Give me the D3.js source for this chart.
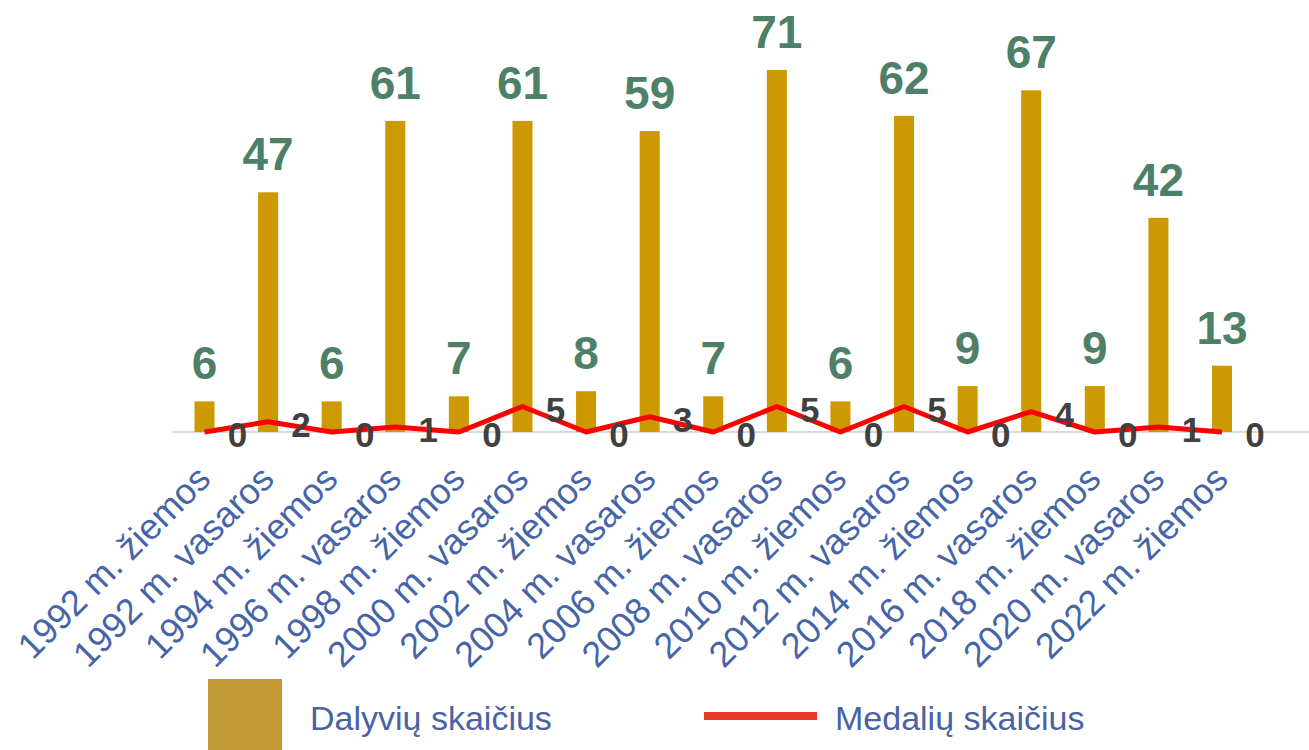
<!DOCTYPE html>
<html>
<head>
<meta charset="utf-8">
<script src="https://cdn.jsdelivr.net/npm/d3@7"></script>
<style>
  html, body { margin: 0; padding: 0; background: #fff; }
  svg { display: block; font-family: "Liberation Sans", Arial, sans-serif; }
</style>
</head>
<body>
<svg id="chart" width="1309" height="750"></svg>
<script>
const categories = [
  '1992 m. žiemos', '1992 m. vasaros', '1994 m. žiemos', '1996 m. vasaros',
  '1998 m. žiemos', '2000 m. vasaros', '2002 m. žiemos', '2004 m. vasaros',
  '2006 m. žiemos', '2008 m. vasaros', '2010 m. žiemos', '2012 m. vasaros',
  '2014 m. žiemos', '2016 m. vasaros', '2018 m. žiemos', '2020 m. vasaros',
  '2022 m. žiemos'
]
const participants = [6, 47, 6, 61, 7, 61, 8, 59, 7, 71, 6, 62, 9, 67, 9, 42, 13]
const medals = [0, 2, 0, 1, 0, 5, 0, 3, 0, 5, 0, 5, 0, 4, 0, 1, 0]
const seriesNames = ['Dalyvių skaičius', 'Medalių skaičius']

const width = 1309
const height = 750
const baseY = 432

const data = categories.map((c, i) => ({name: c, value: participants[i], medals: medals[i]}))

const svg = d3.select('#chart')

const x = d3.scaleBand()
  .domain(categories)
  .range([172.7, 1253.8])
  .paddingInner(0.685)
  .paddingOuter(0.3425)

const y = d3.scaleLinear()
  .domain([0, 80])
  .range([baseY, baseY - 408])

const cx = d => x(d.name) + x.bandwidth() / 2

// x axis (labels rotated)
const xAxis = svg.append('g')
  .attr('transform', `translate(0,${baseY})`)
  .call(d3.axisBottom(x).tickSize(0).tickSizeOuter(0))
xAxis.select('.domain')
  .attr('d', `M172.7,0H${width}`)
  .attr('stroke', '#d9d9d9')
  .attr('stroke-width', 2)
xAxis.selectAll('.tick text')
  .attr('fill', '#4565a8')
  .attr('font-size', 36)
  .attr('font-family', '"Liberation Sans", Arial, sans-serif')
  .attr('text-anchor', 'end')
  .attr('dy', 0)
  .attr('y', 0)
  .attr('transform', 'translate(8,49) rotate(-45)')

// bars
svg.append('g')
  .selectAll('rect')
  .data(data)
  .join('rect')
  .attr('x', d => x(d.name))
  .attr('y', d => y(d.value))
  .attr('width', x.bandwidth())
  .attr('height', d => baseY - y(d.value))
  .attr('fill', '#cc9900')

// bar labels
svg.append('g')
  .selectAll('text')
  .data(data)
  .join('text')
  .attr('x', cx)
  .attr('y', d => y(d.value) - 22)
  .attr('text-anchor', 'middle')
  .attr('font-size', 46)
  .attr('font-weight', 'bold')
  .attr('fill', '#4e8068')
  .text(d => d.value)

// medal line
const line = d3.line()
  .x(cx)
  .y(d => y(d.medals))

svg.append('path')
  .datum(data)
  .attr('fill', 'none')
  .attr('stroke', '#ff0000')
  .attr('stroke-width', 5)
  .attr('stroke-linejoin', 'round')
  .attr('d', line)

// medal labels
svg.append('g')
  .selectAll('text')
  .data(data)
  .join('text')
  .attr('x', d => cx(d) + 33)
  .attr('y', d => y(d.medals) + 15)
  .attr('text-anchor', 'middle')
  .attr('font-size', 35)
  .attr('font-weight', 'bold')
  .attr('fill', '#404040')
  .text(d => d.medals)

// legend
const legend = svg.append('g')
legend.append('rect')
  .attr('x', 208).attr('y', 679)
  .attr('width', 74).attr('height', 71)
  .attr('fill', '#c39a35')
legend.append('text')
  .attr('x', 310).attr('y', 730)
  .attr('font-size', 34)
  .attr('fill', '#4a62a3')
  .text(seriesNames[0])
legend.append('line')
  .attr('x1', 704).attr('x2', 817)
  .attr('y1', 716).attr('y2', 716)
  .attr('stroke', '#e8382a')
  .attr('stroke-width', 8)
legend.append('text')
  .attr('x', 835).attr('y', 730)
  .attr('font-size', 34)
  .attr('fill', '#4a62a3')
  .text(seriesNames[1])
</script>
</body>
</html>
